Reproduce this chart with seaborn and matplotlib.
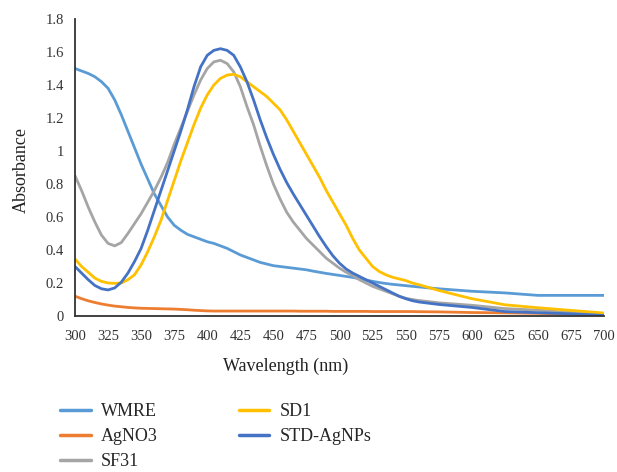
import pandas as pd
import matplotlib
matplotlib.use('Agg')
import matplotlib.pyplot as plt
import seaborn as sns

# wavelengths (nm), 5 nm apart up to 560 then 25 nm
wavelength = list(range(300, 561, 5)) + [575, 600, 625, 650, 675, 700]

wmre = [1.50, 1.485, 1.47, 1.45, 1.42, 1.38, 1.31, 1.22, 1.12, 1.02,
        0.92, 0.83, 0.74, 0.67, 0.60, 0.55, 0.52, 0.495, 0.48, 0.465,
        0.45, 0.44, 0.425, 0.41, 0.39, 0.37, 0.355, 0.34, 0.325, 0.315,
        0.305, 0.30, 0.295, 0.29, 0.285, 0.28, 0.272, 0.265, 0.258, 0.252,
        0.246, 0.24, 0.234, 0.226, 0.218, 0.21, 0.203, 0.197, 0.192, 0.188,
        0.184, 0.18, 0.176, 0.165, 0.15, 0.14, 0.125, 0.125, 0.125]
agno3 = [0.12, 0.105, 0.092, 0.082, 0.073, 0.066, 0.06, 0.056, 0.052, 0.049,
         0.047, 0.046, 0.045, 0.044, 0.043, 0.042, 0.04, 0.038, 0.035, 0.033,
         0.031, 0.03, 0.03, 0.03, 0.03, 0.03, 0.03, 0.03, 0.03, 0.03,
         0.03, 0.03, 0.03, 0.03, 0.029, 0.029, 0.029, 0.029, 0.029, 0.028,
         0.028, 0.028, 0.028, 0.028, 0.028, 0.027, 0.027, 0.027, 0.027, 0.027,
         0.027, 0.027, 0.026, 0.025, 0.021, 0.019, 0.016, 0.012, 0.006]
sf31 = [0.85, 0.76, 0.66, 0.57, 0.49, 0.44, 0.425, 0.445, 0.50, 0.56,
        0.62, 0.69, 0.76, 0.84, 0.93, 1.04, 1.14, 1.24, 1.34, 1.43,
        1.50, 1.54, 1.55, 1.53, 1.48, 1.39, 1.27, 1.16, 1.03, 0.91,
        0.80, 0.71, 0.63, 0.57, 0.52, 0.47, 0.43, 0.39, 0.35, 0.32,
        0.29, 0.265, 0.245, 0.22, 0.20, 0.18, 0.165, 0.15, 0.135, 0.12,
        0.108, 0.10, 0.094, 0.08, 0.065, 0.045, 0.035, 0.022, 0.01]
sd1 = [0.345, 0.30, 0.265, 0.23, 0.21, 0.20, 0.198, 0.20, 0.22, 0.25,
       0.31, 0.39, 0.48, 0.58, 0.70, 0.82, 0.94, 1.05, 1.16, 1.26,
       1.34, 1.40, 1.44, 1.46, 1.465, 1.45, 1.42, 1.39, 1.36, 1.33,
       1.29, 1.25, 1.19, 1.12, 1.05, 0.98, 0.91, 0.84, 0.76, 0.69,
       0.62, 0.55, 0.47, 0.40, 0.35, 0.30, 0.27, 0.25, 0.235, 0.225,
       0.215, 0.20, 0.19, 0.155, 0.105, 0.068, 0.05, 0.034, 0.018]
std_agnps = [0.30, 0.26, 0.22, 0.185, 0.165, 0.158, 0.17, 0.205, 0.26, 0.33,
             0.41, 0.52, 0.64, 0.76, 0.88, 1.00, 1.12, 1.25, 1.39, 1.51,
             1.58, 1.61, 1.62, 1.61, 1.58, 1.51, 1.42, 1.31, 1.19, 1.08,
             0.98, 0.89, 0.81, 0.74, 0.675, 0.61, 0.545, 0.48, 0.42, 0.365,
             0.32, 0.285, 0.26, 0.24, 0.22, 0.20, 0.18, 0.16, 0.14, 0.12,
             0.105, 0.093, 0.085, 0.07, 0.052, 0.027, 0.02, 0.013, 0.003]

series_names = ['WMRE', 'AgNO3', 'SF31', 'SD1', 'STD-AgNPs']
series_values = [wmre, agno3, sf31, sd1, std_agnps]
colors = ['#5B9BD5', '#ED7D31', '#A5A5A5', '#FFC000', '#4472C4']

x_ticks = list(range(300, 701, 25))
y_ticks = [0, 0.2, 0.4, 0.6, 0.8, 1.0, 1.2, 1.4, 1.6, 1.8]
y_tick_labels = ['0', '0.2', '0.4', '0.6', '0.8', '1', '1.2', '1.4', '1.6', '1.8']

rows = []
for name, vals in zip(series_names, series_values):
    for w, v in zip(wavelength, vals):
        rows.append({'Wavelength': w, 'Absorbance': v, 'Sample': name})
df = pd.DataFrame(rows)

sns.set_style('white')
plt.rcParams['font.family'] = ['Liberation Serif', 'DejaVu Serif']

fig = plt.figure(figsize=(6.17, 4.72), dpi=100)
ax = fig.add_axes([75 / 617, 1 - 316 / 472, 529 / 617, 297 / 472])

sns.lineplot(data=df, x='Wavelength', y='Absorbance', hue='Sample', hue_order=series_names,
             palette=colors, linewidth=2.0, ax=ax, legend=False)

ax.set_xlim(300, 700)
ax.set_ylim(0, 1.8)
ax.set_xticks(x_ticks)
ax.set_xticklabels([str(t) for t in x_ticks])
ax.set_yticks(y_ticks)
ax.set_yticklabels(y_tick_labels)
ax.tick_params(length=0, labelsize=10.5, colors='#333333')
ax.tick_params(axis='x', pad=10)
ax.tick_params(axis='y', pad=8)

for side in ['top', 'right']:
    ax.spines[side].set_visible(False)
for side in ['left', 'bottom']:
    ax.spines[side].set_color('#333333')
    ax.spines[side].set_linewidth(1.3)

ax.set_xlabel('Wavelength (nm)', fontsize=13, color='#222222')
ax.set_ylabel('Absorbance', fontsize=13, color='#222222')
ax.xaxis.set_label_coords(0.399, -0.14)
ax.yaxis.set_label_coords(-0.085, 0.49)

handles = [plt.Line2D([], [], color=c, linewidth=2.5) for c in colors]
fig.legend(handles, series_names, loc='upper left', bbox_to_anchor=(60 / 617, 1 - 403 / 472),
           ncol=2, frameon=False, fontsize=13, handlelength=1.7, handletextpad=0.55,
           columnspacing=4.5, labelspacing=0.45, borderpad=0, borderaxespad=0)

fig.savefig('out.png', dpi=100)
